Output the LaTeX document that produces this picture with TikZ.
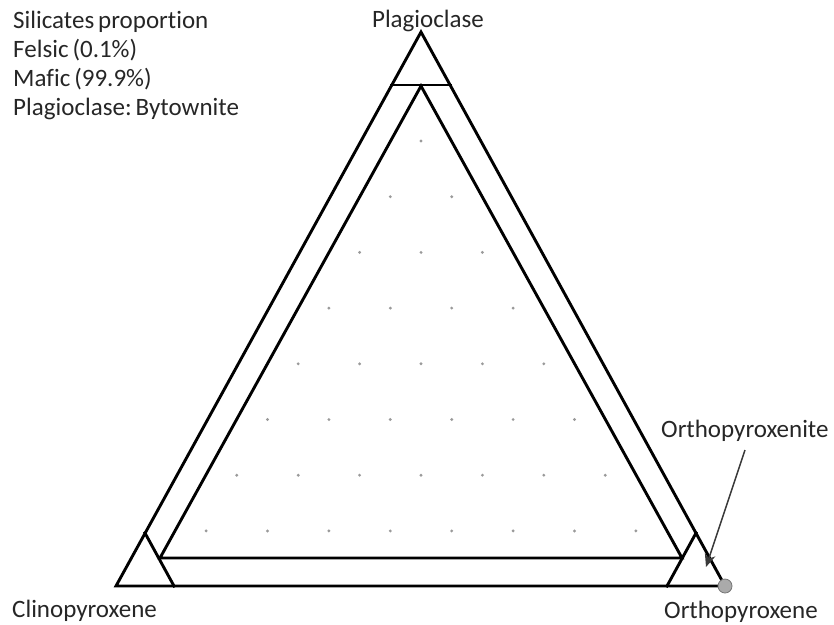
\documentclass[tikz,border=0pt]{standalone}
\usepackage{fontspec}
\setmainfont{Carlito}[Ligatures=NoCommon, WordSpace=0.7]
\usetikzlibrary{arrows.meta}
\frenchspacing
\definecolor{txt}{HTML}{262626}
\definecolor{dotc}{HTML}{9A9A9A}
\definecolor{circf}{HTML}{AAAAAA}
\definecolor{arrc}{HTML}{3A3A3A}
\tikzset{
  edge/.style={line width=2.9pt, line join=miter, line cap=rect, black},
  lbl/.style={inner sep=0pt, text=txt, font=\fontsize{25}{29}\selectfont\frenchspacing},
  gdot/.style={fill=dotc},
  pointer/.style={line width=1.5pt, arrc, -{Stealth[length=13pt,width=11pt]}},
}
\begin{document}
\begin{tikzpicture}[x=1pt,y=-1pt]
\useasboundingbox (0,0) rectangle (834,624);
% outer triangle
\coordinate (A) at (421,32);
\coordinate (B) at (116,586);
\coordinate (C) at (725,586);
% top cut
\coordinate (tl) at (391.8,85);
\coordinate (tr) at (450.2,85);
% inner triangle
\coordinate (ia) at (421,86);
\coordinate (ib) at (160,558);
\coordinate (ic) at (682,558);
% bottom-left small triangle
\coordinate (blt) at (145,533);
\coordinate (blr) at (174,586);
% bottom-right small triangle
\coordinate (brt) at (696,533);
\coordinate (brl) at (667,586);

\draw[edge] (A) -- (B) -- (C) -- cycle;
\draw[edge] (tl) -- (tr);
\draw[edge] (ia) -- (ib) -- (ic) -- cycle;
\draw[edge] (blt) -- (blr);
\draw[edge] (brt) -- (brl);

% dots grid
\foreach \k in {0,...,7}{
  \foreach \i in {0,...,\k}{
    \fill[gdot] ({421+(\i-\k/2)*61.4},{141+\k*55.7}) circle (1.6);
  }
}

% orthopyroxene point
\node[circle, minimum size=14pt, inner sep=0pt, fill=circf, draw=arrc!70, line width=0.8pt] (opx) at (C) {};

% labels
\node[lbl, anchor=base west] (info1) at (13,28) {Silicates proportion};
\node[lbl, anchor=base west] (info2) at (13,57) {Felsic (0.1\%)};
\node[lbl, anchor=base west] (info3) at (13,86) {Mafic (99.9\%)};
\node[lbl, anchor=base west] (info4) at (13,115) {Plagioclase: Bytownite};
\node[lbl, anchor=base] (plag) at (428,27) {Plagioclase};
\node[lbl, anchor=base west] (cpx) at (12,617) {Clinopyroxene};
\node[lbl, anchor=base west] (opxl) at (664,618) {Orthopyroxene};
\node[lbl, anchor=base west] (opxite) at (661,437) {Orthopyroxenite};

\coordinate (arrS) at (745,450);
\coordinate (arrE) at (706,567);
\draw[pointer] (arrS) -- (arrE);
\end{tikzpicture}
\end{document}
